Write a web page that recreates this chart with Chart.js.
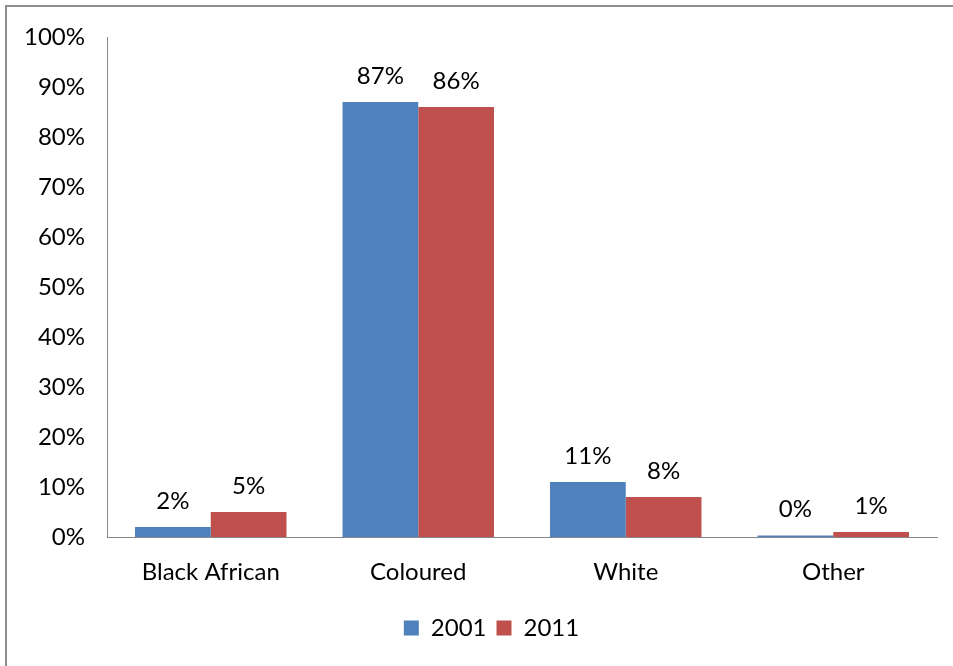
<!DOCTYPE html>
<html>
<head>
<meta charset="utf-8">
<script src="https://cdn.jsdelivr.net/npm/chart.js@4/dist/chart.umd.min.js"></script>
<style>
  html, body { margin: 0; padding: 0; background: #fff; }
  #wrap { width: 953px; height: 666px; }
</style>
</head>
<body>
<div id="wrap"><canvas id="popChart" width="953" height="666"></canvas></div>
<script>
const groups = ["Black African", "Coloured", "White", "Other"];
const years = ["2001", "2011"];
const values2001 = [2, 87, 11, 0.3];
const values2011 = [5, 86, 8, 1];
const yTicks = [0, 10, 20, 30, 40, 50, 60, 70, 80, 90, 100];

const FONT = "Lato, 'Liberation Sans', sans-serif";
const FONT_SIZE = 24;

// frame line on left and top edge of the picture
const framePlugin = {
  id: "frame",
  beforeDraw(chart) {
    const ctx = chart.ctx;
    ctx.save();
    ctx.fillStyle = "#fff";
    ctx.fillRect(0, 0, chart.width, chart.height);
    ctx.strokeStyle = "#8e8e8e";
    ctx.lineWidth = 2;
    ctx.beginPath();
    ctx.moveTo(6, chart.height + 5);
    ctx.lineTo(6, 6);
    ctx.lineTo(chart.width + 5, 6);
    ctx.stroke();
    ctx.restore();
  }
};

// nudge the legend a bit to the right
const legendShift = {
  id: "legendShift",
  afterLayout(chart) {
    chart.legend.left += 23;
    chart.legend.right += 23;
  }
};

// percentage labels above each bar
const valueLabels = {
  id: "valueLabels",
  afterDatasetsDraw(chart) {
    const ctx = chart.ctx;
    ctx.save();
    ctx.font = FONT_SIZE + "px " + FONT;
    ctx.fillStyle = "#000";
    ctx.textAlign = "center";
    ctx.textBaseline = "middle";
    chart.data.datasets.forEach((ds, i) => {
      chart.getDatasetMeta(i).data.forEach((bar, j) => {
        ctx.fillText(Math.round(ds.data[j]) + "%", bar.x, bar.y - 26);
      });
    });
    ctx.restore();
  }
};

new Chart(document.getElementById("popChart"), {
  type: "bar",
  data: {
    labels: groups,
    datasets: [
      { label: years[0], data: values2001, backgroundColor: "#4F81BD" },
      { label: years[1], data: values2011, backgroundColor: "#C0504D" }
    ]
  },
  options: {
    responsive: false,
    animation: false,
    events: [],
    layout: { padding: { top: 37, right: 16, bottom: 16, left: 0 } },
    datasets: { bar: { categoryPercentage: 0.73, barPercentage: 1.0 } },
    scales: {
      x: {
        grid: { display: false, drawTicks: false },
        border: { color: "#868686", width: 1 },
        ticks: { color: "#000", font: { size: FONT_SIZE, family: FONT }, padding: 21 },
        afterFit(scale) { scale.height = 69; }
      },
      y: {
        min: 0,
        max: 100,
        afterBuildTicks(scale) { scale.ticks = yTicks.map(v => ({ value: v })); },
        grid: { display: false, drawTicks: false },
        border: { color: "#868686", width: 1 },
        ticks: {
          color: "#000",
          font: { size: FONT_SIZE, family: FONT },
          padding: 22,
          callback: v => v + "%"
        },
        afterFit(scale) { scale.width = 107; }
      }
    },
    plugins: {
      tooltip: { enabled: false },
      legend: {
        position: "bottom",
        labels: {
          color: "#000",
          font: { size: FONT_SIZE, family: FONT },
          boxWidth: 15,
          boxHeight: 15,
          padding: 10
        }
      }
    }
  },
  plugins: [framePlugin, legendShift, valueLabels]
});
</script>
</body>
</html>
